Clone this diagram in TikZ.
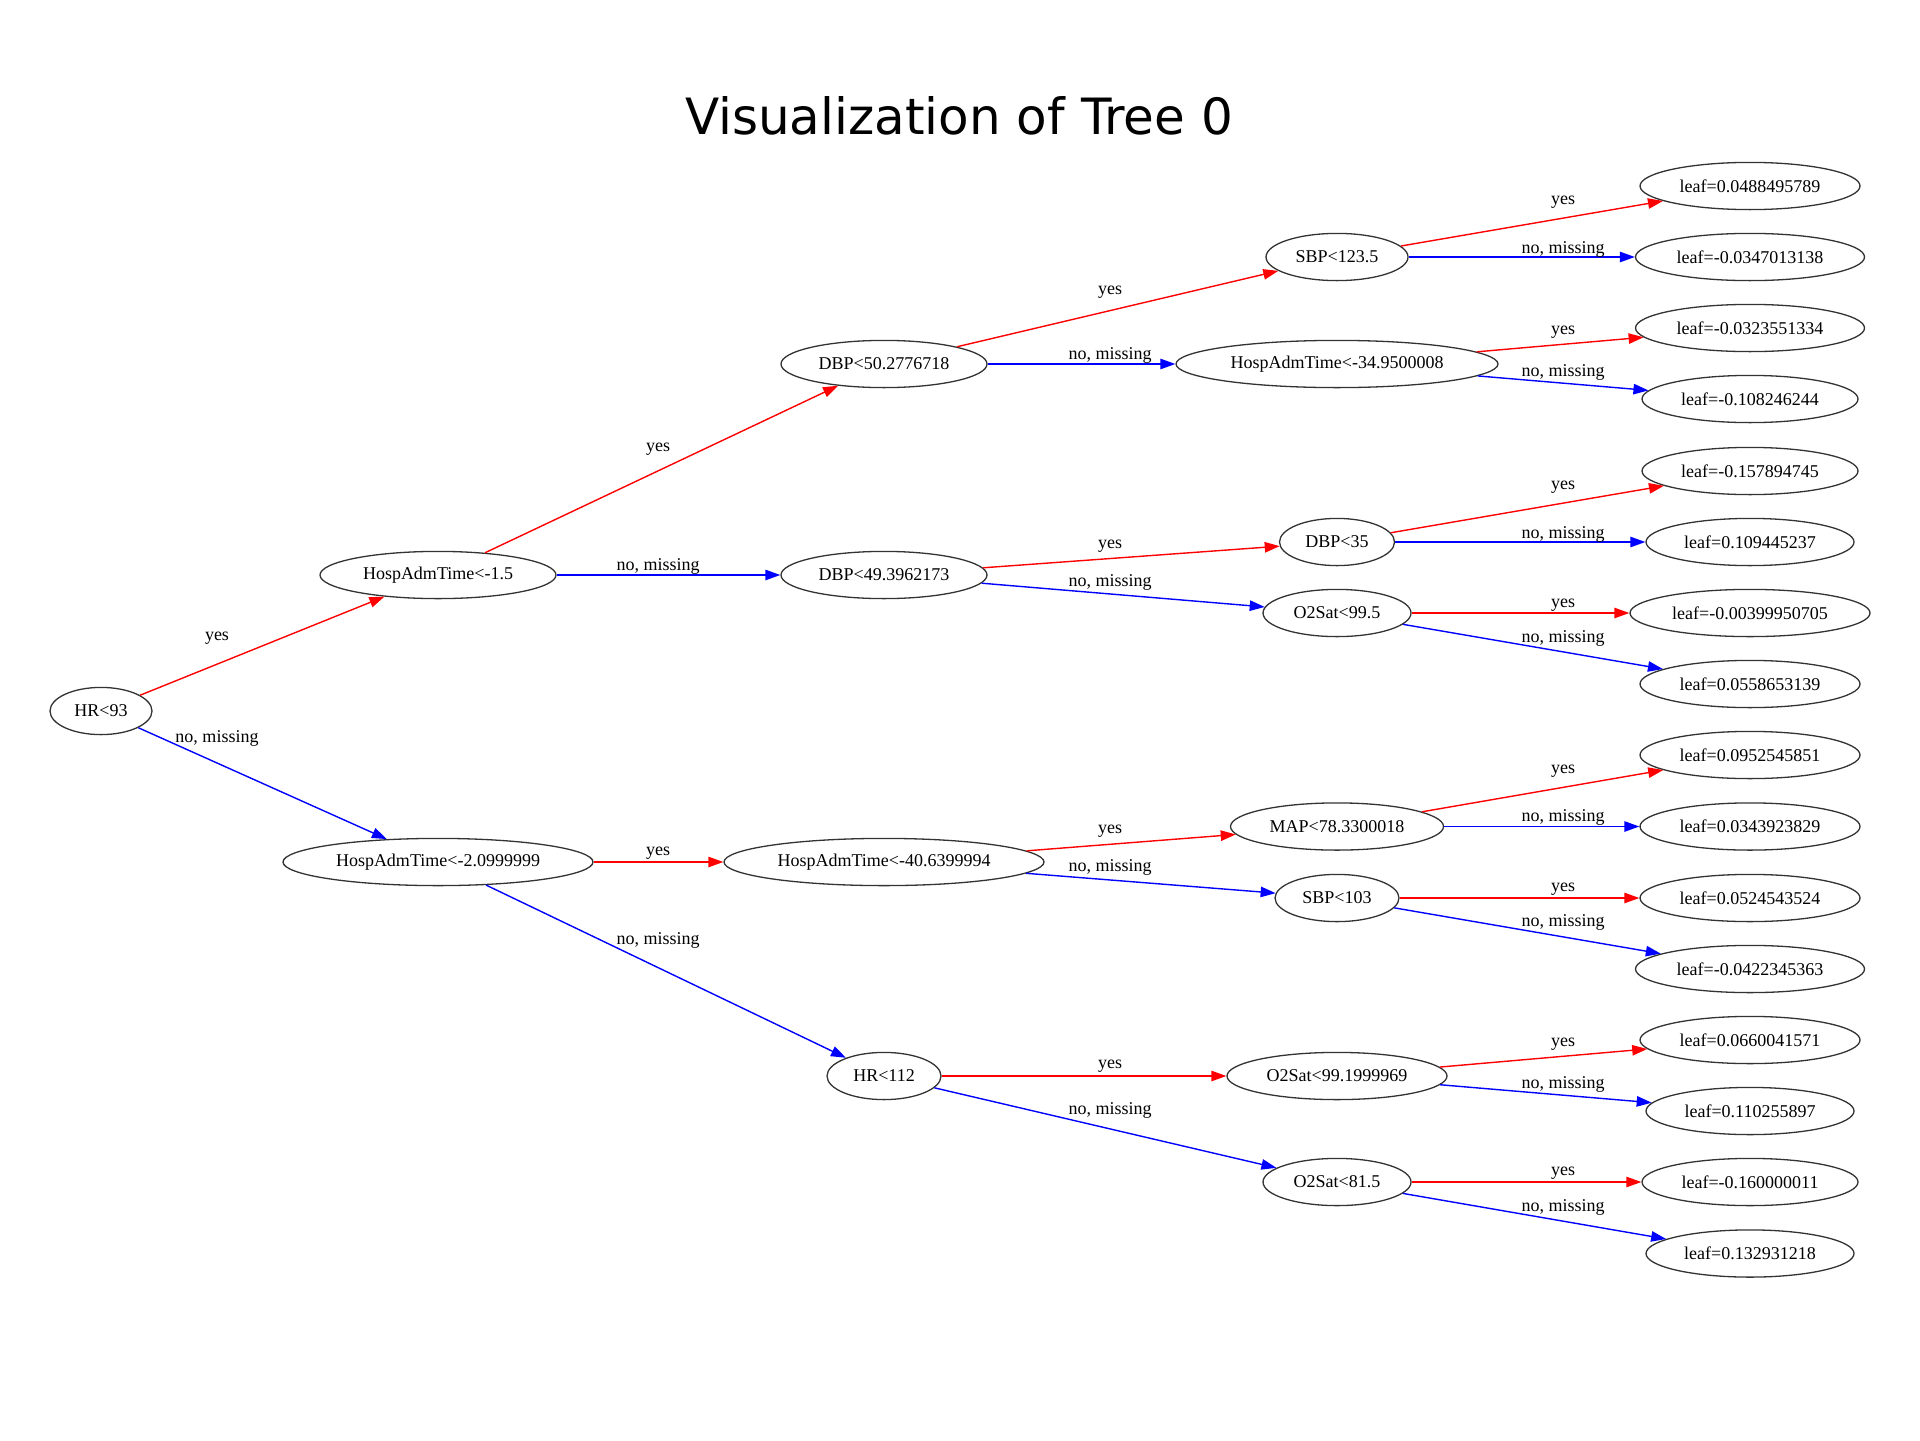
\documentclass[tikz,border=0pt]{standalone}
\usepackage{fontspec}
\setmainfont{Liberation Serif}
\newfontfamily\titlefont{DejaVu Sans}
\usetikzlibrary{shapes.geometric,arrows.meta}
\begin{document}
\begin{tikzpicture}[x=0.5pt,y=-0.5pt,
  tn/.style={ellipse,draw=black!80,line width=0.65pt,inner sep=0pt,minimum height=23.6pt,font=\fontsize{9}{10}\selectfont},
  yesE/.style={draw=red,line width=0.7pt,-{Triangle[length=7.5pt,width=5.2pt]}},
  noE/.style={draw=blue,line width=0.7pt,-{Triangle[length=7.5pt,width=5.2pt]}},
  lbl/.style={inner sep=0pt,font=\fontsize{9}{10}\selectfont}]
\useasboundingbox (0,0) rectangle (1920,1440);
\node[font=\titlefont\fontsize{25}{30}\selectfont,anchor=base,inner sep=0pt] (title) at (959,134) {Visualization of Tree 0};
% internal nodes
\node[tn,minimum width=51pt] (hr93) at (101,711) {HR<93};
\node[tn,minimum width=118pt] (h15) at (438,575) {HospAdmTime<-1.5};
\node[tn,minimum width=155pt] (h209) at (438,862) {HospAdmTime<-2.0999999};
\node[tn,minimum width=103pt] (dbp50) at (884,364) {DBP<50.2776718};
\node[tn,minimum width=103pt] (dbp49) at (884,575) {DBP<49.3962173};
\node[tn,minimum width=160pt] (h4064) at (884,862) {HospAdmTime<-40.6399994};
\node[tn,minimum width=57pt] (hr112) at (884,1076) {HR<112};
\node[tn,minimum width=71pt] (sbp123) at (1337,257) {SBP<123.5};
\node[tn,minimum width=161pt] (h3495) at (1337,364) {HospAdmTime<-34.9500008};
\node[tn,minimum width=57.5pt] (dbp35) at (1337,542) {DBP<35};
\node[tn,minimum width=74pt] (o2995) at (1337,613) {O2Sat<99.5};
\node[tn,minimum width=106.5pt] (map) at (1337,826.5) {MAP<78.3300018};
\node[tn,minimum width=62pt] (sbp103) at (1337,898) {SBP<103};
\node[tn,minimum width=110pt] (o2991) at (1337,1076) {O2Sat<99.1999969};
\node[tn,minimum width=74pt] (o2815) at (1337,1182) {O2Sat<81.5};
% leaves
\node[tn,minimum width=110pt] (l1) at (1750,186) {leaf=0.0488495789};
\node[tn,minimum width=114.5pt] (l2) at (1750,257) {leaf=-0.0347013138};
\node[tn,minimum width=114.5pt] (l3) at (1750,328) {leaf=-0.0323551334};
\node[tn,minimum width=108pt] (l4) at (1750,399) {leaf=-0.108246244};
\node[tn,minimum width=108pt] (l5) at (1750,471) {leaf=-0.157894745};
\node[tn,minimum width=104pt] (l6) at (1750,542) {leaf=0.109445237};
\node[tn,minimum width=120pt] (l7) at (1750,613) {leaf=-0.00399950705};
\node[tn,minimum width=110pt] (l8) at (1750,684) {leaf=0.0558653139};
\node[tn,minimum width=110pt] (l9) at (1750,755) {leaf=0.0952545851};
\node[tn,minimum width=110pt] (l10) at (1750,826.5) {leaf=0.0343923829};
\node[tn,minimum width=110pt] (l11) at (1750,898) {leaf=0.0524543524};
\node[tn,minimum width=114.5pt] (l12) at (1750,969) {leaf=-0.0422345363};
\node[tn,minimum width=110pt] (l13) at (1750,1040) {leaf=0.0660041571};
\node[tn,minimum width=104pt] (l14) at (1750,1111) {leaf=0.110255897};
\node[tn,minimum width=108pt] (l15) at (1750,1182) {leaf=-0.160000011};
\node[tn,minimum width=104pt] (l16) at (1750,1253.5) {leaf=0.132931218};
% edges
\draw[yesE] (hr93) -- (h15);
\draw[noE] (hr93) -- (h209);
\draw[yesE] (h15) -- (dbp50);
\draw[noE] (h15) -- (dbp49);
\draw[yesE] (dbp50) -- (sbp123);
\draw[noE] (dbp50) -- (h3495);
\draw[yesE] (sbp123) -- (l1);
\draw[noE] (sbp123) -- (l2);
\draw[yesE] (h3495) -- (l3);
\draw[noE] (h3495) -- (l4);
\draw[yesE] (dbp49) -- (dbp35);
\draw[noE] (dbp49) -- (o2995);
\draw[yesE] (dbp35) -- (l5);
\draw[noE] (dbp35) -- (l6);
\draw[yesE] (o2995) -- (l7);
\draw[noE] (o2995) -- (l8);
\draw[yesE] (h209) -- (h4064);
\draw[noE] (h209) -- (hr112);
\draw[yesE] (h4064) -- (map);
\draw[noE] (h4064) -- (sbp103);
\draw[yesE] (map) -- (l9);
\draw[noE] (map) -- (l10);
\draw[yesE] (sbp103) -- (l11);
\draw[noE] (sbp103) -- (l12);
\draw[yesE] (hr112) -- (o2991);
\draw[noE] (hr112) -- (o2815);
\draw[yesE] (o2991) -- (l13);
\draw[noE] (o2991) -- (l14);
\draw[yesE] (o2815) -- (l15);
\draw[noE] (o2815) -- (l16);
% edge labels
\node[lbl] (e1) at (217,638) {yes};
\node[lbl] (e2) at (217,738) {no, missing};
\node[lbl] (e3) at (658,449) {yes};
\node[lbl] (e4) at (658,566) {no, missing};
\node[lbl] (e5) at (658,853) {yes};
\node[lbl] (e6) at (658,940) {no, missing};
\node[lbl] (e7) at (1110,292) {yes};
\node[lbl] (e8) at (1110,355) {no, missing};
\node[lbl] (e9) at (1110,546) {yes};
\node[lbl] (e10) at (1110,582) {no, missing};
\node[lbl] (e11) at (1110,831) {yes};
\node[lbl] (e12) at (1110,867) {no, missing};
\node[lbl] (e13) at (1110,1066) {yes};
\node[lbl] (e14) at (1110,1110) {no, missing};
\node[lbl] (e15) at (1563,202) {yes};
\node[lbl] (e16) at (1563,249) {no, missing};
\node[lbl] (e17) at (1563,332) {yes};
\node[lbl] (e18) at (1563,372) {no, missing};
\node[lbl] (e19) at (1563,487) {yes};
\node[lbl] (e20) at (1563,534) {no, missing};
\node[lbl] (e21) at (1563,605) {yes};
\node[lbl] (e22) at (1563,638) {no, missing};
\node[lbl] (e23) at (1563,771) {yes};
\node[lbl] (e24) at (1563,817) {no, missing};
\node[lbl] (e25) at (1563,889) {yes};
\node[lbl] (e26) at (1563,922) {no, missing};
\node[lbl] (e27) at (1563,1044) {yes};
\node[lbl] (e28) at (1563,1084) {no, missing};
\node[lbl] (e29) at (1563,1173) {yes};
\node[lbl] (e30) at (1563,1207) {no, missing};
\end{tikzpicture}
\end{document}
